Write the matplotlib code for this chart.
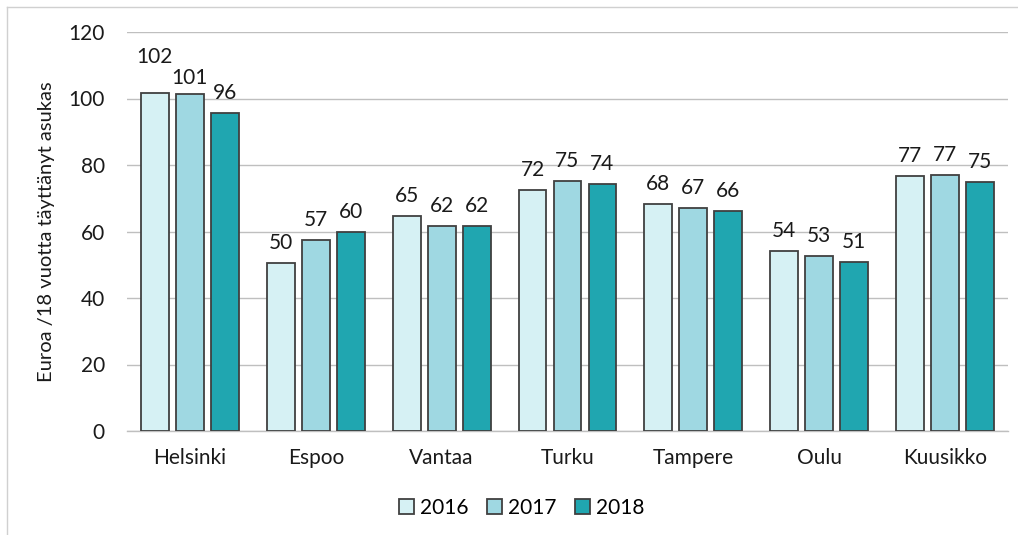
import numpy as np
import matplotlib
matplotlib.use('Agg')
import matplotlib.pyplot as plt
from matplotlib.lines import Line2D

plt.rcParams['font.family'] = ['Lato', 'DejaVu Sans']

cities = ['Helsinki', 'Espoo', 'Vantaa', 'Turku', 'Tampere', 'Oulu', 'Kuusikko']
years = ['2016', '2017', '2018']
v2016 = [101.6, 50.5, 64.7, 72.5, 68.4, 54.1, 76.7]
v2017 = [101.3, 57.4, 61.7, 75.2, 67.1, 52.6, 77.0]
v2018 = [95.6, 59.8, 61.7, 74.3, 66.2, 50.8, 74.8]
colors = ['#D6F1F4', '#9FD8E2', '#20A6B0']

fig = plt.figure(figsize=(10.18, 5.35), dpi=100)
ax = fig.add_axes([127/1018, 1 - 431/535, (1008-127)/1018, (431-32)/535])

x = np.arange(len(cities))
w = 0.222
step = 0.278
for i, (vals, c) in enumerate(zip([v2016, v2017, v2018], colors)):
    xs = x + (i - 1) * step
    ax.bar(xs, vals, width=w, color=c, edgecolor='#404040', linewidth=1.3,
           label=years[i], zorder=3)
    for j, (xx, v) in enumerate(zip(xs, vals)):
        dy = 3.0
        # Excel staggers the crowded Helsinki labels
        if j == 0 and i == 0:
            dy = 8.0
        elif j == 0 and i == 1:
            dy = 2.0
        ax.text(xx, v + dy, f"{round(v):d}", ha='center', va='bottom',
                fontsize=15, color='#1a1a1a')

ax.set_xlim(-0.5, len(cities) - 0.5)
ax.set_ylim(0, 120)
ax.set_yticks(np.arange(0, 121, 20))
ax.yaxis.grid(True, color='#BFBFBF', linewidth=1.0, zorder=0)
ax.set_xticks(x)
ax.set_xticklabels(cities)
ax.tick_params(axis='both', length=0, labelsize=15, colors='#1a1a1a')
ax.tick_params(axis='x', pad=12)
ax.tick_params(axis='y', pad=16)
for s in ['left', 'right', 'top']:
    ax.spines[s].set_visible(False)
ax.spines['bottom'].set_color('#BFBFBF')
ax.spines['bottom'].set_linewidth(1.0)
ax.set_ylabel('Euroa /18 vuotta täyttänyt asukas', fontsize=14.5, color='#1a1a1a', labelpad=10)

fig.legend(*ax.get_legend_handles_labels(), loc='center', bbox_to_anchor=(522/1018, 1 - 508/535),
           ncol=3, frameon=False, fontsize=15, handlelength=0.7, handleheight=0.7,
           handletextpad=0.3, columnspacing=0.9)

# outer border of the chart
fig.add_artist(Line2D([7/1018, 7/1018], [0, 1 - 7/535], color='#D0D0D0', linewidth=1.0))
fig.add_artist(Line2D([7/1018, 1], [1 - 7/535, 1 - 7/535], color='#D0D0D0', linewidth=1.0))

fig.savefig('out.png', dpi=100)
